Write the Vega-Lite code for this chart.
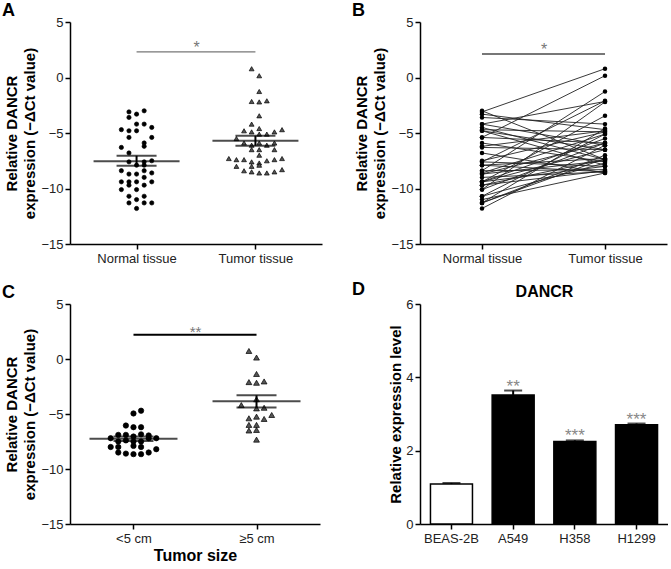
{
  "$schema": "https://vega.github.io/schema/vega-lite/v6.json",
  "background": "white",
  "padding": {"left": 2, "top": 2, "right": 0, "bottom": 0},
  "columns": 2,
  "spacing": {"column": 30, "row": 16},
  "datasets": {
    "tissue": [
      {"group": "Normal tissue", "value": -3.1, "slot": -2, "pair": 1},
      {"group": "Normal tissue", "value": -3.6, "slot": -2, "pair": 2},
      {"group": "Normal tissue", "value": -3.3, "slot": 0, "pair": 3},
      {"group": "Normal tissue", "value": -3.0, "slot": 2, "pair": 4},
      {"group": "Normal tissue", "value": -4.2, "slot": 0, "pair": 5},
      {"group": "Normal tissue", "value": -4.2, "slot": 2, "pair": 6},
      {"group": "Normal tissue", "value": -4.5, "slot": 4, "pair": 7},
      {"group": "Normal tissue", "value": -4.7, "slot": -4, "pair": 8},
      {"group": "Normal tissue", "value": -4.8, "slot": -2, "pair": 9},
      {"group": "Normal tissue", "value": -4.8, "slot": 0, "pair": 10},
      {"group": "Normal tissue", "value": -5.4, "slot": -2, "pair": 11},
      {"group": "Normal tissue", "value": -5.4, "slot": 4, "pair": 12},
      {"group": "Normal tissue", "value": -5.9, "slot": 2, "pair": 13},
      {"group": "Normal tissue", "value": -6.2, "slot": 2, "pair": 14},
      {"group": "Normal tissue", "value": -6.3, "slot": -4, "pair": 15},
      {"group": "Normal tissue", "value": -6.8, "slot": -2, "pair": 16},
      {"group": "Normal tissue", "value": -7.6, "slot": -2, "pair": 17},
      {"group": "Normal tissue", "value": -7.6, "slot": 2, "pair": 18},
      {"group": "Normal tissue", "value": -7.5, "slot": 4, "pair": 19},
      {"group": "Normal tissue", "value": -7.9, "slot": 0, "pair": 20},
      {"group": "Normal tissue", "value": -7.9, "slot": 2, "pair": 21},
      {"group": "Normal tissue", "value": -8.4, "slot": -4, "pair": 22},
      {"group": "Normal tissue", "value": -8.4, "slot": 2, "pair": 23},
      {"group": "Normal tissue", "value": -8.7, "slot": -2, "pair": 24},
      {"group": "Normal tissue", "value": -8.7, "slot": 0, "pair": 25},
      {"group": "Normal tissue", "value": -8.6, "slot": 4, "pair": 26},
      {"group": "Normal tissue", "value": -9.0, "slot": 2, "pair": 27},
      {"group": "Normal tissue", "value": -9.4, "slot": -4, "pair": 28},
      {"group": "Normal tissue", "value": -9.4, "slot": -2, "pair": 29},
      {"group": "Normal tissue", "value": -9.4, "slot": 0, "pair": 30},
      {"group": "Normal tissue", "value": -9.4, "slot": 4, "pair": 31},
      {"group": "Normal tissue", "value": -9.7, "slot": -2, "pair": 32},
      {"group": "Normal tissue", "value": -9.7, "slot": 2, "pair": 33},
      {"group": "Normal tissue", "value": -10.1, "slot": -4, "pair": 34},
      {"group": "Normal tissue", "value": -10.1, "slot": 0, "pair": 35},
      {"group": "Normal tissue", "value": -10.7, "slot": -2, "pair": 36},
      {"group": "Normal tissue", "value": -10.7, "slot": 2, "pair": 37},
      {"group": "Normal tissue", "value": -11.0, "slot": 0, "pair": 38},
      {"group": "Normal tissue", "value": -11.3, "slot": -2, "pair": 39},
      {"group": "Normal tissue", "value": -11.3, "slot": 2, "pair": 40},
      {"group": "Normal tissue", "value": -11.3, "slot": 4, "pair": 41},
      {"group": "Normal tissue", "value": -11.8, "slot": 0, "pair": 42},
      {"group": "Tumor tissue", "value": 0.79, "slot": -1, "pair": 1},
      {"group": "Tumor tissue", "value": 0.16, "slot": 1, "pair": 11},
      {"group": "Tumor tissue", "value": -1.26, "slot": 1, "pair": 22},
      {"group": "Tumor tissue", "value": -2.16, "slot": -1, "pair": 5},
      {"group": "Tumor tissue", "value": -2.2, "slot": 1, "pair": 34},
      {"group": "Tumor tissue", "value": -2.1, "slot": 3, "pair": 17},
      {"group": "Tumor tissue", "value": -3.45, "slot": 1, "pair": 29},
      {"group": "Tumor tissue", "value": -4.2, "slot": -1, "pair": 2},
      {"group": "Tumor tissue", "value": -4.6, "slot": 1, "pair": 40},
      {"group": "Tumor tissue", "value": -4.8, "slot": -3, "pair": 14},
      {"group": "Tumor tissue", "value": -4.9, "slot": -1, "pair": 8},
      {"group": "Tumor tissue", "value": -5.1, "slot": 1, "pair": 26},
      {"group": "Tumor tissue", "value": -5.1, "slot": 3, "pair": 37},
      {"group": "Tumor tissue", "value": -4.9, "slot": 5, "pair": 19},
      {"group": "Tumor tissue", "value": -4.7, "slot": 7, "pair": 3},
      {"group": "Tumor tissue", "value": -5.5, "slot": -5, "pair": 31},
      {"group": "Tumor tissue", "value": -5.9, "slot": -3, "pair": 12},
      {"group": "Tumor tissue", "value": -6.1, "slot": -1, "pair": 42},
      {"group": "Tumor tissue", "value": -5.9, "slot": 1, "pair": 24},
      {"group": "Tumor tissue", "value": -6.1, "slot": 3, "pair": 6},
      {"group": "Tumor tissue", "value": -5.9, "slot": 5, "pair": 35},
      {"group": "Tumor tissue", "value": -6.5, "slot": -1, "pair": 15},
      {"group": "Tumor tissue", "value": -6.5, "slot": 1, "pair": 28},
      {"group": "Tumor tissue", "value": -6.5, "slot": 5, "pair": 9},
      {"group": "Tumor tissue", "value": -7.0, "slot": 1, "pair": 39},
      {"group": "Tumor tissue", "value": -7.3, "slot": -7, "pair": 20},
      {"group": "Tumor tissue", "value": -7.4, "slot": -5, "pair": 4},
      {"group": "Tumor tissue", "value": -7.4, "slot": -3, "pair": 32},
      {"group": "Tumor tissue", "value": -7.6, "slot": -1, "pair": 13},
      {"group": "Tumor tissue", "value": -7.7, "slot": 1, "pair": 36},
      {"group": "Tumor tissue", "value": -7.5, "slot": 3, "pair": 25},
      {"group": "Tumor tissue", "value": -7.4, "slot": 5, "pair": 7},
      {"group": "Tumor tissue", "value": -7.3, "slot": 7, "pair": 41},
      {"group": "Tumor tissue", "value": -8.0, "slot": -5, "pair": 18},
      {"group": "Tumor tissue", "value": -8.0, "slot": -1, "pair": 30},
      {"group": "Tumor tissue", "value": -7.9, "slot": 1, "pair": 10},
      {"group": "Tumor tissue", "value": -8.4, "slot": -3, "pair": 33},
      {"group": "Tumor tissue", "value": -8.5, "slot": -1, "pair": 21},
      {"group": "Tumor tissue", "value": -8.6, "slot": 1, "pair": 38},
      {"group": "Tumor tissue", "value": -8.6, "slot": 3, "pair": 16},
      {"group": "Tumor tissue", "value": -8.5, "slot": 5, "pair": 27},
      {"group": "Tumor tissue", "value": -8.3, "slot": 7, "pair": 23}
    ],
    "summA": [
      {"group": "Normal tissue", "mean": -7.55, "lo": -7.95, "hi": -7.05},
      {"group": "Tumor tissue", "mean": -5.7, "lo": -6.15, "hi": -5.25}
    ],
    "sigA": [{"from": "Normal tissue", "to": "Tumor tissue", "y": 2.3, "label": "*"}],
    "sigB": [{"from": "Normal tissue", "to": "Tumor tissue", "y": 2.12, "label": "*"}],
    "size": [
      {"group": "<5 cm", "value": -4.7, "slot": 2},
      {"group": "<5 cm", "value": -4.95, "slot": 0},
      {"group": "<5 cm", "value": -6.05, "slot": -2},
      {"group": "<5 cm", "value": -6.2, "slot": 0},
      {"group": "<5 cm", "value": -6.2, "slot": 2},
      {"group": "<5 cm", "value": -6.9, "slot": -4},
      {"group": "<5 cm", "value": -6.9, "slot": -2},
      {"group": "<5 cm", "value": -7.05, "slot": 0},
      {"group": "<5 cm", "value": -6.85, "slot": 2},
      {"group": "<5 cm", "value": -6.95, "slot": 4},
      {"group": "<5 cm", "value": -7.2, "slot": -6},
      {"group": "<5 cm", "value": -7.5, "slot": -4},
      {"group": "<5 cm", "value": -7.4, "slot": -2},
      {"group": "<5 cm", "value": -7.5, "slot": 0},
      {"group": "<5 cm", "value": -7.5, "slot": 2},
      {"group": "<5 cm", "value": -7.2, "slot": 4},
      {"group": "<5 cm", "value": -7.2, "slot": 6},
      {"group": "<5 cm", "value": -8.0, "slot": -6},
      {"group": "<5 cm", "value": -8.0, "slot": -4},
      {"group": "<5 cm", "value": -7.9, "slot": 0},
      {"group": "<5 cm", "value": -8.0, "slot": 2},
      {"group": "<5 cm", "value": -8.2, "slot": 6},
      {"group": "<5 cm", "value": -8.5, "slot": -4},
      {"group": "<5 cm", "value": -8.6, "slot": -2},
      {"group": "<5 cm", "value": -8.65, "slot": 0},
      {"group": "<5 cm", "value": -8.65, "slot": 2},
      {"group": "<5 cm", "value": -8.5, "slot": 4},
      {"group": "≥5 cm", "value": 0.73, "slot": -2},
      {"group": "≥5 cm", "value": 0.13, "slot": 0},
      {"group": "≥5 cm", "value": -1.36, "slot": 0},
      {"group": "≥5 cm", "value": -2.1, "slot": -2},
      {"group": "≥5 cm", "value": -2.16, "slot": 0},
      {"group": "≥5 cm", "value": -2.04, "slot": 2},
      {"group": "≥5 cm", "value": -3.66, "slot": 0},
      {"group": "≥5 cm", "value": -4.19, "slot": -4},
      {"group": "≥5 cm", "value": -4.49, "slot": 0},
      {"group": "≥5 cm", "value": -4.43, "slot": 2},
      {"group": "≥5 cm", "value": -5.24, "slot": 0},
      {"group": "≥5 cm", "value": -5.09, "slot": 4},
      {"group": "≥5 cm", "value": -5.39, "slot": -2},
      {"group": "≥5 cm", "value": -5.45, "slot": 2},
      {"group": "≥5 cm", "value": -5.99, "slot": -2},
      {"group": "≥5 cm", "value": -5.99, "slot": 0},
      {"group": "≥5 cm", "value": -6.5, "slot": -2},
      {"group": "≥5 cm", "value": -6.45, "slot": 0},
      {"group": "≥5 cm", "value": -7.33, "slot": 0}
    ],
    "summC": [
      {"group": "<5 cm", "mean": -7.25, "lo": -7.45, "hi": -7.05},
      {"group": "≥5 cm", "mean": -3.85, "lo": -4.4, "hi": -3.3}
    ],
    "sigC": [{"from": "<5 cm", "to": "≥5 cm", "y": 2.2, "label": "**"}],
    "cells": [
      {"cell": "BEAS-2B", "kind": "control", "value": 1.09, "err": 1.12, "sig": ""},
      {"cell": "A549", "kind": "cancer", "value": 3.52, "err": 3.64, "sig": "**"},
      {"cell": "H358", "kind": "cancer", "value": 2.25, "err": 2.28, "sig": "***"},
      {"cell": "H1299", "kind": "cancer", "value": 2.71, "err": 2.74, "sig": "***"}
    ]
  },
  "concat": [
    {
      "width": 252,
      "height": 222,
      "title": {"text": "A", "dx": -68},
      "layer": [
        {
          "data": {"name": "tissue"},
          "mark": {"type": "point", "filled": true, "opacity": 1, "stroke": "#000", "strokeWidth": 0.7},
          "encoding": {
            "x": {"field": "group", "type": "nominal", "scale": {"type": "point", "padding": 0.56}, "axis": {"title": null}},
            "xOffset": {"field": "slot", "type": "quantitative", "scale": {"domain": [-10, 10], "range": [-38, 38]}},
            "y": {"field": "value", "type": "quantitative", "scale": {"domain": [-15, 5], "nice": false}, "axis": {"values": [5, 0, -5, -10, -15], "title": ["Relative DANCR", "expression (−ΔCt value)"]}},
            "shape": {"field": "group", "type": "nominal", "scale": {"domain": ["Normal tissue", "Tumor tissue"], "range": ["circle", "triangle-up"]}, "legend": null},
            "color": {"field": "group", "type": "nominal", "scale": {"domain": ["Normal tissue", "Tumor tissue"], "range": ["#000000", "#555555"]}, "legend": null},
            "size": {"field": "group", "type": "nominal", "scale": {"domain": ["Normal tissue", "Tumor tissue"], "range": [18, 34]}, "legend": null}
          }
        },
        {
          "data": {"name": "summA"},
          "mark": {"type": "tick", "size": 86, "thickness": 2, "color": "#000"},
          "encoding": {"x": {"field": "group", "type": "nominal"}, "y": {"field": "mean", "type": "quantitative"}}
        },
        {
          "data": {"name": "summA"},
          "mark": {"type": "tick", "size": 40, "thickness": 2, "color": "#000"},
          "encoding": {"x": {"field": "group", "type": "nominal"}, "y": {"field": "lo", "type": "quantitative"}}
        },
        {
          "data": {"name": "summA"},
          "mark": {"type": "tick", "size": 40, "thickness": 2, "color": "#000"},
          "encoding": {"x": {"field": "group", "type": "nominal"}, "y": {"field": "hi", "type": "quantitative"}}
        },
        {
          "data": {"name": "summA"},
          "mark": {"type": "rule", "strokeWidth": 2, "color": "#000"},
          "encoding": {"x": {"field": "group", "type": "nominal"}, "y": {"field": "lo", "type": "quantitative"}, "y2": {"field": "hi"}}
        },
        {
          "data": {"name": "sigA"},
          "mark": {"type": "rule", "strokeWidth": 1.2, "color": "#777"},
          "encoding": {"x": {"field": "from", "type": "nominal"}, "x2": {"field": "to"}, "y": {"field": "y", "type": "quantitative"}}
        },
        {
          "data": {"name": "sigA"},
          "mark": {"type": "text", "fontSize": 16, "color": "#777", "baseline": "alphabetic", "dx": 60, "dy": 1},
          "encoding": {"x": {"field": "from", "type": "nominal"}, "y": {"field": "y", "type": "quantitative"}, "text": {"field": "label"}}
        }
      ]
    },
    {
      "width": 247,
      "height": 222,
      "title": {"text": "B", "dx": -68},
      "layer": [
        {
          "data": {"name": "tissue"},
          "mark": {"type": "line", "color": "#222", "strokeWidth": 0.9},
          "encoding": {
            "x": {"field": "group", "type": "nominal", "scale": {"type": "point", "padding": 0.504}, "axis": {"title": null}},
            "y": {"field": "value", "type": "quantitative", "scale": {"domain": [-15, 5], "nice": false}, "axis": {"values": [5, 0, -5, -10, -15], "title": ["Relative DANCR", "expression (−ΔCt value)"]}},
            "detail": {"field": "pair", "type": "nominal"}
          }
        },
        {
          "data": {"name": "tissue"},
          "mark": {"type": "point", "filled": true, "opacity": 1, "size": 20, "color": "#000"},
          "encoding": {"x": {"field": "group", "type": "nominal"}, "y": {"field": "value", "type": "quantitative"}}
        },
        {
          "data": {"name": "sigB"},
          "mark": {"type": "rule", "strokeWidth": 2, "color": "#777"},
          "encoding": {"x": {"field": "from", "type": "nominal"}, "x2": {"field": "to"}, "y": {"field": "y", "type": "quantitative"}}
        },
        {
          "data": {"name": "sigB"},
          "mark": {"type": "text", "fontSize": 16, "color": "#777", "baseline": "alphabetic", "dx": 62, "dy": 1},
          "encoding": {"x": {"field": "from", "type": "nominal"}, "y": {"field": "y", "type": "quantitative"}, "text": {"field": "label"}}
        }
      ]
    },
    {
      "width": 250,
      "height": 220,
      "title": {"text": "C", "dx": -68},
      "layer": [
        {
          "data": {"name": "size"},
          "mark": {"type": "point", "filled": true, "opacity": 1, "stroke": "#000", "strokeWidth": 0.7},
          "encoding": {
            "x": {"field": "group", "type": "nominal", "scale": {"type": "point", "padding": 0.516}, "axis": {"title": "Tumor size", "titleFontSize": 16, "titlePadding": 2}},
            "xOffset": {"field": "slot", "type": "quantitative", "scale": {"domain": [-10, 10], "range": [-38, 38]}},
            "y": {"field": "value", "type": "quantitative", "scale": {"domain": [-15, 5], "nice": false}, "axis": {"values": [5, 0, -5, -10, -15], "title": ["Relative DANCR", "expression (−ΔCt value)"]}},
            "shape": {"field": "group", "type": "nominal", "scale": {"domain": ["<5 cm", "≥5 cm"], "range": ["circle", "triangle-up"]}, "legend": null},
            "color": {"field": "group", "type": "nominal", "scale": {"domain": ["<5 cm", "≥5 cm"], "range": ["#000000", "#555555"]}, "legend": null},
            "size": {"field": "group", "type": "nominal", "scale": {"domain": ["<5 cm", "≥5 cm"], "range": [24, 34]}, "legend": null}
          }
        },
        {
          "data": {"name": "summC"},
          "mark": {"type": "tick", "size": 88, "thickness": 2, "color": "#000"},
          "encoding": {"x": {"field": "group", "type": "nominal"}, "y": {"field": "mean", "type": "quantitative"}}
        },
        {
          "data": {"name": "summC"},
          "mark": {"type": "tick", "size": 40, "thickness": 2, "color": "#000"},
          "encoding": {"x": {"field": "group", "type": "nominal"}, "y": {"field": "lo", "type": "quantitative"}}
        },
        {
          "data": {"name": "summC"},
          "mark": {"type": "tick", "size": 40, "thickness": 2, "color": "#000"},
          "encoding": {"x": {"field": "group", "type": "nominal"}, "y": {"field": "hi", "type": "quantitative"}}
        },
        {
          "data": {"name": "summC"},
          "mark": {"type": "rule", "strokeWidth": 2, "color": "#000"},
          "encoding": {"x": {"field": "group", "type": "nominal"}, "y": {"field": "lo", "type": "quantitative"}, "y2": {"field": "hi"}}
        },
        {
          "data": {"name": "sigC"},
          "mark": {"type": "rule", "strokeWidth": 2, "color": "#000"},
          "encoding": {"x": {"field": "from", "type": "nominal"}, "x2": {"field": "to"}, "y": {"field": "y", "type": "quantitative"}}
        },
        {
          "data": {"name": "sigC"},
          "mark": {"type": "text", "fontSize": 15, "color": "#777", "baseline": "alphabetic", "dx": 62, "dy": 2},
          "encoding": {"x": {"field": "from", "type": "nominal"}, "y": {"field": "y", "type": "quantitative"}, "text": {"field": "label"}}
        }
      ]
    },
    {
      "width": 248,
      "height": 220,
      "title": {"text": "D", "dx": -68, "offset": -16},
      "data": {"name": "cells"},
      "resolve": {"axis": {"x": "independent"}},
      "layer": [
        {
          "mark": {"type": "bar", "stroke": "#000", "strokeWidth": 1.5, "width": 42},
          "encoding": {
            "x": {"field": "cell", "type": "nominal", "sort": null, "scale": {"type": "band", "paddingInner": 0.32, "paddingOuter": 0.17}, "axis": {"title": null}},
            "y": {"field": "value", "type": "quantitative", "scale": {"domain": [0, 6], "nice": false}, "axis": {"values": [0, 2, 4, 6], "title": "Relative expression level", "titlePadding": 2}},
            "fill": {"field": "kind", "type": "nominal", "scale": {"domain": ["control", "cancer"], "range": ["#ffffff", "#000000"]}, "legend": null}
          }
        },
        {
          "mark": {"type": "rule", "strokeWidth": 2, "color": "#000"},
          "encoding": {"x": {"field": "cell", "type": "nominal", "sort": null, "axis": null}, "y": {"field": "value", "type": "quantitative"}, "y2": {"field": "err"}}
        },
        {
          "mark": {"type": "tick", "size": 18, "thickness": 2, "color": "#000"},
          "encoding": {
            "x": {"field": "cell", "type": "nominal", "sort": null, "axis": {"orient": "top", "title": "DANCR", "labels": false, "ticks": false, "domain": false, "titleFontSize": 16, "titlePadding": 5}},
            "y": {"field": "err", "type": "quantitative"}
          }
        },
        {
          "mark": {"type": "text", "fontSize": 17, "color": "#888", "baseline": "alphabetic", "dy": 1},
          "encoding": {"x": {"field": "cell", "type": "nominal", "sort": null, "axis": null}, "y": {"field": "err", "type": "quantitative"}, "text": {"field": "sig"}}
        }
      ]
    }
  ],
  "config": {
    "font": "Liberation Sans",
    "view": {"stroke": null},
    "axis": {
      "domainColor": "#000",
      "domainWidth": 1.5,
      "tickColor": "#000",
      "tickWidth": 1.5,
      "tickSize": 5,
      "labelFontSize": 13,
      "labelColor": "#222",
      "labelPadding": 2,
      "titleFontSize": 15,
      "titleFontWeight": "bold",
      "titleColor": "#000",
      "titleLineHeight": 18,
      "grid": false
    },
    "axisX": {"labelAngle": 0, "labelPadding": 3},
    "axisY": {"titlePadding": 3},
    "title": {"fontSize": 18, "fontWeight": "bold", "anchor": "start", "frame": "group", "color": "#000", "offset": -4}
  }
}
